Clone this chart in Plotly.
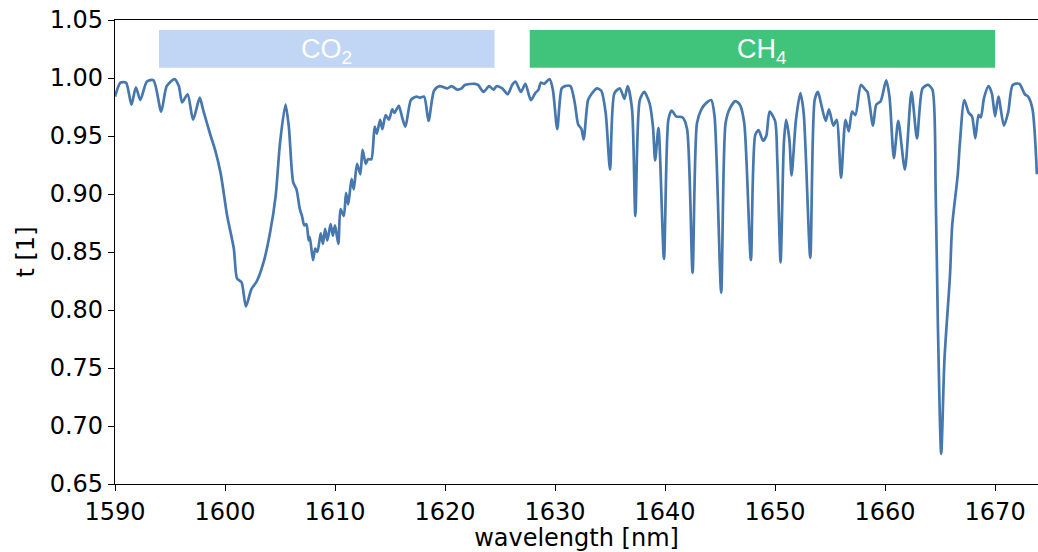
import plotly.graph_objects as go

wavelength = [
    1590.0, 1590.5, 1591.0, 1591.5, 1591.9, 1592.3, 1592.9, 1593.5, 1594.2, 1594.7,
    1595.4, 1595.8, 1596.1, 1596.6, 1597.1, 1597.7, 1598.0, 1598.7, 1599.1, 1599.6,
    1600.2, 1600.8, 1601.1, 1601.5, 1601.9, 1602.4, 1602.9, 1603.5, 1604.1, 1604.6,
    1605.0, 1605.5, 1605.8, 1606.2, 1606.5, 1606.8, 1607.0, 1607.2, 1607.4, 1607.6,
    1607.7, 1608.0, 1608.2, 1608.4, 1608.7, 1608.9, 1609.1, 1609.3, 1609.6, 1609.8,
    1610.0, 1610.3, 1610.5, 1610.8, 1611.0, 1611.2, 1611.5, 1611.7, 1612.0, 1612.3,
    1612.5, 1612.8, 1613.0, 1613.3, 1613.6, 1613.8, 1614.1, 1614.3, 1614.6, 1614.9,
    1615.2, 1615.4, 1615.8, 1616.1, 1616.4, 1616.9, 1617.4, 1617.7, 1618.1, 1618.5,
    1619.0, 1619.5, 1620.2, 1620.6, 1621.1, 1621.5, 1621.8, 1622.7, 1623.0, 1623.5,
    1624.0, 1624.4, 1624.7, 1625.2, 1625.7, 1626.1, 1626.4, 1626.9, 1627.3, 1627.8,
    1628.2, 1628.5, 1628.7, 1629.0, 1629.5, 1629.8, 1630.2, 1630.6, 1630.9, 1631.4,
    1631.8, 1632.1, 1632.4, 1632.6, 1633.0, 1633.3, 1633.8, 1634.2, 1634.6, 1635.0,
    1635.4, 1635.9, 1636.3, 1636.6, 1637.0, 1637.3, 1637.7, 1638.1, 1638.6, 1638.9,
    1639.1, 1639.4, 1639.9, 1640.3, 1640.6, 1641.0, 1641.6, 1642.0, 1642.5, 1642.9,
    1643.3, 1643.8, 1644.2, 1644.5, 1645.1, 1645.5, 1645.9, 1646.4, 1646.8, 1647.2,
    1647.8, 1648.2, 1648.5, 1648.9, 1649.2, 1649.5, 1650.0, 1650.2, 1650.5, 1650.8,
    1651.0, 1651.3, 1651.5, 1651.9, 1652.3, 1652.6, 1653.2, 1653.6, 1653.9, 1654.2,
    1654.6, 1654.9, 1655.3, 1655.6, 1656.0, 1656.4, 1656.7, 1657.0, 1657.3, 1657.8,
    1658.2, 1658.4, 1658.9, 1659.2, 1659.6, 1660.1, 1660.4, 1660.8, 1661.2, 1661.8,
    1662.4, 1662.9, 1663.4, 1663.9, 1664.3, 1664.6, 1664.8, 1665.1, 1665.4, 1665.9,
    1666.1, 1666.6, 1666.8, 1667.2, 1667.6, 1667.9, 1668.2, 1668.5, 1668.7, 1669.0,
    1669.4, 1669.7, 1670.0, 1670.3, 1670.8, 1671.2, 1671.6, 1672.2, 1672.7, 1673.0,
    1673.4, 1673.8,
]

transmission = [
    0.984, 0.996, 0.996, 0.977, 0.992, 0.981, 0.997, 0.998, 0.971, 0.993,
    0.999, 0.993, 0.979, 0.986, 0.964, 0.983, 0.973, 0.950, 0.938, 0.918,
    0.881, 0.853, 0.827, 0.824, 0.803, 0.818, 0.825, 0.841, 0.867, 0.898,
    0.944, 0.977, 0.958, 0.910, 0.904, 0.887, 0.881, 0.873, 0.874, 0.860,
    0.863, 0.843, 0.853, 0.850, 0.866, 0.857, 0.870, 0.860, 0.874, 0.864,
    0.873, 0.857, 0.887, 0.881, 0.901, 0.891, 0.913, 0.904, 0.926, 0.917,
    0.938, 0.926, 0.930, 0.930, 0.958, 0.952, 0.964, 0.956, 0.968, 0.964,
    0.973, 0.970, 0.976, 0.966, 0.958, 0.981, 0.984, 0.983, 0.984, 0.963,
    0.989, 0.993, 0.991, 0.993, 0.990, 0.991, 0.994, 0.995, 0.994, 0.988,
    0.993, 0.990, 0.993, 0.991, 0.986, 0.994, 0.997, 0.988, 0.995, 0.981,
    0.987, 0.990, 0.996, 0.995, 0.999, 0.990, 0.956, 0.991, 0.993, 0.993,
    0.978, 0.960, 0.956, 0.947, 0.981, 0.986, 0.991, 0.989, 0.970, 0.921,
    0.987, 0.991, 0.982, 0.993, 0.973, 0.881, 0.981, 0.988, 0.978, 0.958,
    0.929, 0.957, 0.844, 0.964, 0.972, 0.967, 0.966, 0.956, 0.832, 0.961,
    0.973, 0.979, 0.981, 0.967, 0.815, 0.961, 0.974, 0.980, 0.977, 0.961,
    0.843, 0.951, 0.955, 0.946, 0.950, 0.971, 0.963, 0.930, 0.841, 0.944,
    0.964, 0.947, 0.916, 0.964, 0.987, 0.970, 0.845, 0.981, 0.988, 0.977,
    0.963, 0.973, 0.959, 0.964, 0.914, 0.964, 0.954, 0.971, 0.968, 0.994,
    0.990, 0.988, 0.959, 0.977, 0.980, 0.998, 0.984, 0.931, 0.963, 0.921,
    0.988, 0.948, 0.991, 0.994, 0.990, 0.901, 0.787, 0.676, 0.758, 0.830,
    0.873, 0.916, 0.944, 0.981, 0.970, 0.967, 0.948, 0.968, 0.966, 0.983,
    0.993, 0.987, 0.967, 0.984, 0.959, 0.971, 0.994, 0.995, 0.986, 0.984,
    0.973, 0.917,
]

band_labels = ["CO<sub>2</sub>", "CH<sub>4</sub>"]
band_starts = [1594.0, 1627.7]
band_ends = [1624.5, 1670.0]
band_bottom = 1.0088
band_top = 1.0414
band_colors = ["#c1d5f4", "#40c47c"]

x_ticks = [1590, 1600, 1610, 1620, 1630, 1640, 1650, 1660, 1670]
y_ticks = [0.65, 0.70, 0.75, 0.80, 0.85, 0.90, 0.95, 1.00, 1.05]

fig = go.Figure()
fig.add_trace(go.Scatter(
    x=wavelength, y=transmission, mode="lines",
    line=dict(color="#4677ad", width=2.7, shape="spline", smoothing=0.7),
    showlegend=False, hoverinfo="x+y",
))

for lbl, x0, x1, col in zip(band_labels, band_starts, band_ends, band_colors):
    fig.add_shape(type="rect", xref="x", yref="y", x0=x0, x1=x1,
                  y0=band_bottom, y1=band_top, fillcolor=col, line_width=0,
                  layer="below")
    fig.add_annotation(x=(x0 + x1) / 2, y=(band_bottom + band_top) / 2,
                       xref="x", yref="y", text=lbl, showarrow=False,
                       font=dict(family="Liberation Sans, Arial", size=27, color="white"),
                       xanchor="center", yanchor="middle", yshift=-2)

axis_font = dict(family="DejaVu Sans", size=24, color="black")
fig.update_layout(
    width=1038, height=552,
    margin=dict(l=115, r=0, t=20, b=66),
    paper_bgcolor="white", plot_bgcolor="white",
    font=axis_font,
    xaxis=dict(
        range=[1590, 1673.9], tickvals=x_ticks, ticktext=[str(v) for v in x_ticks],
        ticks="outside", ticklen=6, tickwidth=1.2, tickcolor="black",
        showline=True, linecolor="black", linewidth=1.2, mirror=True,
        showgrid=False, zeroline=False, tickfont=axis_font,
        title=dict(text="wavelength [nm]", font=axis_font, standoff=9),
    ),
    yaxis=dict(
        range=[0.65, 1.05], tickvals=y_ticks, ticktext=[f"{v:.2f}" for v in y_ticks],
        ticks="outside", ticklen=6, tickwidth=1.2, tickcolor="black",
        showline=True, linecolor="black", linewidth=1.2, mirror=False,
        showgrid=False, zeroline=False, tickfont=axis_font,
        title=dict(text="t [1]", font=axis_font, standoff=8),
    ),
)

fig.write_html("out.html")
